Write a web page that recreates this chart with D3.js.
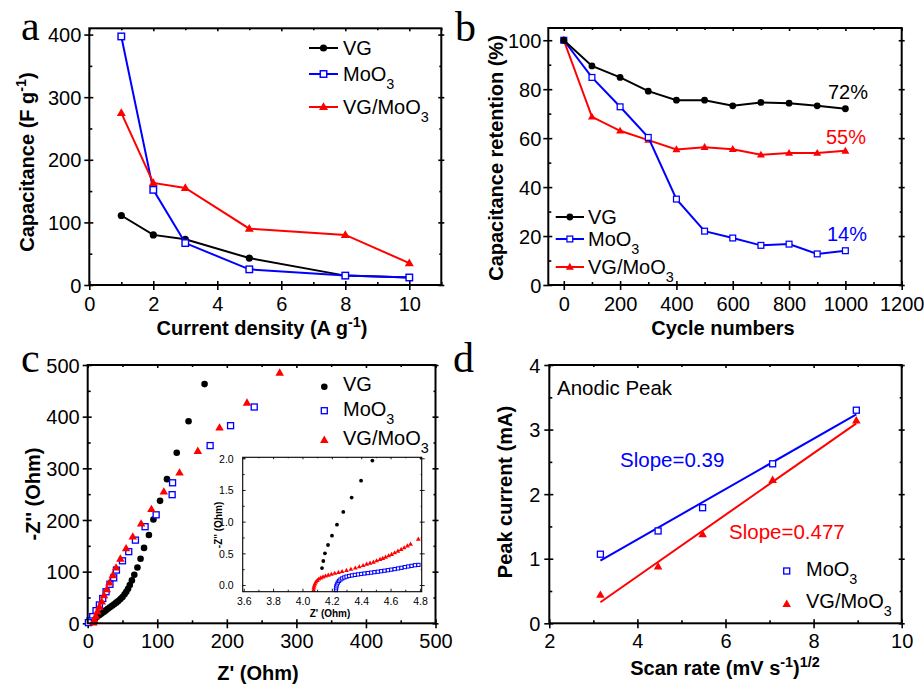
<!DOCTYPE html>
<html><head><meta charset="utf-8">
<script src="https://cdn.jsdelivr.net/npm/d3@7"></script>
<style>
body{margin:0;background:#fff}
svg{display:block}
text{font-family:"Liberation Sans",Arial,Helvetica,sans-serif;fill:#000}
</style>
</head><body>
<svg id="chart" width="924" height="684"></svg>
<script>
// ---------------- DATA ----------------
// (a) rate capability
const densities = [1, 2, 3, 5, 8, 10];
const capVG = [111, 80, 73, 43, 15, 12];
const capMoO3 = [397, 152, 67, 25, 15, 12];
const capVGMoO3 = [275, 163, 155, 90, 80, 35];

// (b) cycling stability
const cycles = [0, 100, 200, 300, 400, 500, 600, 700, 800, 900, 1000];
const retVG = [100, 89.5, 84.8, 79.2, 75.5, 75.5, 73.2, 74.6, 74.3, 73.2, 72];
const retMoO3 = [100, 84.8, 72.8, 60.3, 35.1, 22, 19.2, 16.2, 16.7, 12.7, 14];
const retVGMoO3 = [100, 68.7, 63, 59.2, 55.4, 56.3, 55.5, 53.2, 53.9, 53.9, 54.8];
const retLabels = ["72%", "55%", "14%"];

// (c) Nyquist plots [Z', -Z'']
const eisVG = [[168,463],[145,391],[128,330],[114,279],[104,237],[94.5,201],[88,171],[81,146],[76,125],[71.5,108],[67,94],[63.5,83],[60.5,74],[58,67],[55.5,61],[53,56],[50,51],[47,47],[44,43],[41,40],[38,37],[35,34],[32,31],[29,28],[26,25],[23,22],[20,19],[17,16],[14,13],[11,10],[8.5,7],[6.5,4.5],[5,2.5],[4,1]];
const eisMoO3 = [[239.4,418.7],[205.4,382.6],[176,344],[122,272],[121.4,249],[98.4,210],[82.5,187],[68.6,161],[59,138.7],[50,121],[41.3,103],[37.4,88],[32,75.5],[26.4,61],[21.6,48],[16.8,35.5],[12,24.5],[7.2,13],[3.4,4.5],[1,1.3]];
const eisVGMoO3 = [[276,485],[229,427],[189.5,378.7],[158.3,333.5],[132,291.6],[109.4,254.8],[91.6,221],[76.8,193],[64.8,167.7],[55.2,145],[47,125],[40.8,107.7],[36,93],[31.2,78.7],[27.4,65.8],[23.5,54.2],[20.2,42],[16.8,32],[13.9,22.6],[11.5,14],[9.6,6.5],[8.2,1.3]];
// (c) inset, high-frequency region
const insetVG = [[4.476,1.963],[4.399,1.647],[4.335,1.379],[4.278,1.153],[4.235,0.953],[4.201,0.779],[4.174,0.632],[4.153,0.5],[4.142,0.379],[4.133,0.268]];
const insetVGMoO3 = [[4.076,-0.079],[4.077,-0.045],[4.080,-0.012],[4.085,0.02],[4.092,0.05],[4.101,0.075],[4.112,0.097],[4.125,0.115],[4.140,0.13],[4.157,0.144],[4.176,0.158],[4.197,0.172],[4.22,0.187],[4.245,0.2],[4.27,0.215],[4.3,0.232],[4.33,0.25],[4.36,0.27],[4.387,0.29],[4.413,0.31],[4.437,0.332],[4.46,0.348],[4.483,0.363],[4.505,0.384],[4.528,0.405],[4.547,0.423],[4.566,0.442],[4.587,0.463],[4.607,0.484],[4.628,0.51],[4.65,0.537],[4.672,0.563],[4.693,0.589],[4.715,0.618],[4.736,0.647],[4.789,0.726]];
const insetMoO3 = [[4.228,-0.079],[4.229,-0.05],[4.231,-0.02],[4.235,0.01],[4.241,0.04],[4.249,0.065],[4.259,0.087],[4.271,0.105],[4.285,0.12],[4.30,0.133],[4.318,0.143],[4.337,0.152],[4.357,0.16],[4.378,0.168],[4.40,0.175],[4.422,0.182],[4.445,0.189],[4.468,0.196],[4.49,0.203],[4.513,0.21],[4.536,0.218],[4.559,0.226],[4.582,0.234],[4.605,0.243],[4.628,0.252],[4.651,0.262],[4.674,0.272],[4.697,0.283],[4.72,0.293],[4.743,0.303],[4.766,0.313],[4.79,0.318]];

// (d) peak current vs sqrt(scan rate)
const sqrtRates = [3.16, 4.47, 5.48, 7.07, 8.97];
const peakMoO3 = [1.07, 1.43, 1.79, 2.47, 3.30];
const peakVGMoO3 = [0.44, 0.88, 1.38, 2.22, 3.14];
const fitSlopes = [0.39, 0.477];
const fitIntercepts = [-0.262, -1.182];
const fitRange = [3.16, 8.97];
const slopeLabels = ["Slope=0.39", "Slope=0.477"];

const BLACK = "#000000", BLUE = "#0000ff", RED = "#ff0000";

// ---------------- HELPERS ----------------
const svg = d3.select("#chart");

function rich(g, parts, fs, attrs) {
  const t = g.append("text").attr("font-size", fs);
  for (const k in attrs) t.attr(k, attrs[k]);
  let shift = 0;
  parts.forEach(p => {
    const s = typeof p === "string" ? {t: p} : p;
    const target = s.sup ? -0.42 * fs : s.sub ? 0.4 * fs : 0;
    const ts = t.append("tspan").text(s.t);
    if (target !== shift) { ts.attr("dy", target - shift); shift = target; }
    if (s.sup || s.sub) ts.attr("font-size", fs * 0.72);
  });
  return t;
}

function range(a, b, step) {
  const out = [];
  for (let v = a; v <= b + step * 1e-6; v += step) out.push(+v.toFixed(6));
  return out;
}

function panel(cfg) {
  const x = d3.scaleLinear().domain(cfg.xd).range([cfg.L, cfg.R]);
  const y = d3.scaleLinear().domain(cfg.yd).range([cfg.B, cfg.T]);
  const g = svg.append("g");
  const fs = cfg.fs || 20;
  const sw = cfg.sw || 2;
  const outT = cfg.outTick === undefined ? 5 : cfg.outTick;
  const inT = cfg.inTick === undefined ? 4 : cfg.inTick;
  const minT = cfg.minTick === undefined ? 3 : cfg.minTick;
  if (cfg.fill) g.append("rect").attr("x", cfg.L).attr("y", cfg.T)
      .attr("width", cfg.R - cfg.L).attr("height", cfg.B - cfg.T).attr("fill", "#fff");

  const styleAxis = (sel) => {
    sel.select(".domain").remove();
    sel.selectAll("line").attr("stroke", "#000").attr("stroke-width", sw * 0.8);
  };
  // bottom: labelled outward major ticks
  const bx = g.append("g").attr("transform", `translate(0,${cfg.B})`)
    .call(d3.axisBottom(x).tickValues(cfg.xMajor).tickSize(outT).tickFormat(cfg.fx));
  styleAxis(bx);
  bx.selectAll("text").attr("font-size", fs).attr("y", cfg.xLabOff).attr("dy", null)
    .attr("fill", cfg.labColor || "#000").attr("font-family", null);
  // bottom inward majors + minors
  styleAxis(g.append("g").attr("transform", `translate(0,${cfg.B})`)
    .call(d3.axisBottom(x).tickValues(cfg.xMajor).tickSize(-inT).tickFormat("")));
  styleAxis(g.append("g").attr("transform", `translate(0,${cfg.B})`)
    .call(d3.axisBottom(x).tickValues(cfg.xMinor).tickSize(-minT).tickFormat("")));
  // left
  const ly = g.append("g").attr("transform", `translate(${cfg.L},0)`)
    .call(d3.axisLeft(y).tickValues(cfg.yMajor).tickSize(outT).tickFormat(cfg.fy));
  styleAxis(ly);
  ly.selectAll("text").attr("font-size", fs).attr("x", -cfg.yLabOff).attr("dy", "0.36em")
    .attr("fill", cfg.labColor || "#000").attr("font-family", null);
  styleAxis(g.append("g").attr("transform", `translate(${cfg.L},0)`)
    .call(d3.axisLeft(y).tickValues(cfg.yMajor).tickSize(-inT).tickFormat("")));
  styleAxis(g.append("g").attr("transform", `translate(${cfg.L},0)`)
    .call(d3.axisLeft(y).tickValues(cfg.yMinor).tickSize(-minT).tickFormat("")));
  // mirror top/right
  if (cfg.mirror !== false) {
    styleAxis(g.append("g").attr("transform", `translate(0,${cfg.T})`)
      .call(d3.axisTop(x).tickValues(cfg.xMajor).tickSize(-inT + 1).tickFormat("")));
    styleAxis(g.append("g").attr("transform", `translate(0,${cfg.T})`)
      .call(d3.axisTop(x).tickValues(cfg.xMinor).tickSize(-minT + 1).tickFormat("")));
    styleAxis(g.append("g").attr("transform", `translate(${cfg.R},0)`)
      .call(d3.axisRight(y).tickValues(cfg.yMajor).tickSize(3).tickFormat("")));
    styleAxis(g.append("g").attr("transform", `translate(${cfg.R},0)`)
      .call(d3.axisRight(y).tickValues(cfg.yMajor).tickSize(-inT + 1).tickFormat("")));
    styleAxis(g.append("g").attr("transform", `translate(${cfg.R},0)`)
      .call(d3.axisRight(y).tickValues(cfg.yMinor).tickSize(-minT + 1).tickFormat("")));
  }
  const plot = g.append("g");
  g.append("rect").attr("x", cfg.L).attr("y", cfg.T)
    .attr("width", cfg.R - cfg.L).attr("height", cfg.B - cfg.T)
    .attr("fill", "none").attr("stroke", "#000").attr("stroke-width", sw);
  return {g, plot, x, y};
}

function triPath(a) {
  const h = a * Math.sqrt(3) / 2;
  return `M0,${-h * 0.6}L${a / 2},${h * 0.4}L${-a / 2},${h * 0.4}Z`;
}

function markers(g, pts, type, color, size) {
  const sel = g.append("g");
  pts.forEach(([px, py]) => {
    if (type === "circle") {
      sel.append("circle").attr("cx", px).attr("cy", py).attr("r", size).attr("fill", color);
    } else if (type === "square") {
      sel.append("rect").attr("x", px - size / 2).attr("y", py - size / 2)
        .attr("width", size).attr("height", size).attr("fill", "#fff")
        .attr("stroke", color).attr("stroke-width", Math.max(1, size * 0.22));
    } else {
      sel.append("path").attr("d", triPath(size)).attr("transform", `translate(${px},${py})`)
        .attr("fill", color);
    }
  });
}

function series(p, xs, ys, type, color, size, withLine) {
  const pts = xs.map((v, i) => [p.x(v), p.y(ys[i])]);
  if (withLine) {
    p.plot.append("path").attr("d", d3.line()(pts)).attr("fill", "none")
      .attr("stroke", color).attr("stroke-width", 2);
  }
  markers(p.plot, pts, type, color, size);
}

function pairSeries(p, data, type, color, size) {
  markers(p.plot, data.map(d => [p.x(d[0]), p.y(d[1])]), type, color, size);
}

function legendRow(g, x1, x2, yy, type, color, size, tx, parts, line) {
  if (line) g.append("line").attr("x1", x1).attr("x2", x2).attr("y1", yy).attr("y2", yy)
      .attr("stroke", color).attr("stroke-width", 2);
  markers(g, [[(x1 + x2) / 2, yy]], type, color, size);
  rich(g, parts, 20, {x: tx, y: yy + 7});
}

function panelLetter(ch, x, y) {
  svg.append("text").attr("x", x).attr("y", y).attr("font-size", 42)
    .style("font-family", "'Liberation Serif','Times New Roman',serif").text(ch);
}

const subMo = ["MoO", {t: "3", sub: true}];
const subVGMo = ["VG/MoO", {t: "3", sub: true}];

// ---------------- PANEL A ----------------
const pa = panel({L: 89.3, R: 441.3, T: 28.3, B: 285, xd: [0, 11], yd: [0, 410],
  xMajor: range(0, 10, 2), xMinor: [1, 3, 5, 7, 9, 11], yMajor: range(0, 400, 100), yMinor: range(50, 350, 100),
  fx: d3.format("d"), fy: d3.format("d"), xLabOff: 26, yLabOff: 8});
series(pa, densities, capVG, "circle", BLACK, 3.6, true);
series(pa, densities, capMoO3, "square", BLUE, 6.5, true);
series(pa, densities, capVGMoO3, "tri", RED, 9, true);
legendRow(pa.g, 309, 338, 48, "circle", BLACK, 3.6, 343, ["VG"], true);
legendRow(pa.g, 309, 338, 74, "square", BLUE, 6.5, 343, subMo, true);
legendRow(pa.g, 309, 338, 107, "tri", RED, 9, 343, subVGMo, true);
rich(pa.g, ["Current density (A g", {t: "-1", sup: true}, ")"], 20,
  {x: 262, y: 335, "text-anchor": "middle", "font-weight": "bold"});
rich(pa.g, ["Capacitance (F g", {t: "-1", sup: true}, ")"], 20,
  {transform: "translate(34,162) rotate(-90)", "text-anchor": "middle", "font-weight": "bold"});
panelLetter("a", 21, 40);

// ---------------- PANEL B ----------------
const pb = panel({L: 548.3, R: 901.7, T: 28, B: 285, xd: [-55, 1200], yd: [0, 105],
  xMajor: range(0, 1200, 200), xMinor: range(100, 1100, 200), yMajor: range(0, 100, 20), yMinor: range(10, 90, 20),
  fx: d3.format("d"), fy: d3.format("d"), xLabOff: 26, yLabOff: 7});
series(pb, cycles, retVGMoO3, "tri", RED, 8, true);
series(pb, cycles, retMoO3, "square", BLUE, 5.8, true);
series(pb, cycles, retVG, "circle", BLACK, 3.4, true);
legendRow(pb.g, 555.7, 584, 217, "circle", BLACK, 3.4, 588, ["VG"], true);
legendRow(pb.g, 555.7, 584, 239, "square", BLUE, 5.8, 588, subMo, true);
legendRow(pb.g, 555.7, 584, 267, "tri", RED, 8, 588, subVGMo, true);
[[retLabels[0], BLACK, 99, 828], [retLabels[1], RED, 144, 826], [retLabels[2], BLUE, 240.5, 827]].forEach(([t, c, yy, xx]) => {
  pb.g.append("text").attr("x", xx).attr("y", yy).attr("font-size", 20).attr("fill", c).style("fill", c).text(t);
});
rich(pb.g, ["Cycle numbers"], 20, {x: 723, y: 335, "text-anchor": "middle", "font-weight": "bold"});
rich(pb.g, ["Capacitance retention (%)"], 20,
  {transform: "translate(503,158) rotate(-90)", "text-anchor": "middle", "font-weight": "bold"});
panelLetter("b", 455, 41);

// ---------------- PANEL C ----------------
const pc = panel({L: 87.7, R: 435.5, T: 365, B: 623.3, xd: [0, 500], yd: [0, 500],
  xMajor: range(0, 500, 100), xMinor: range(50, 450, 100), yMajor: range(0, 500, 100), yMinor: range(50, 450, 100),
  fx: d3.format("d"), fy: d3.format("d"), xLabOff: 25, yLabOff: 8});
pairSeries(pc, eisVG, "circle", BLACK, 3.3);
pairSeries(pc, eisMoO3, "square", BLUE, 6);
pairSeries(pc, eisVGMoO3, "tri", RED, 8.5);
markers(pc.g, [[324.3, 386.7]], "circle", BLACK, 3.3);
markers(pc.g, [[324.3, 410.7]], "square", BLUE, 6);
markers(pc.g, [[324.3, 440]], "tri", RED, 8.5);
rich(pc.g, ["VG"], 20, {x: 343, y: 391});
rich(pc.g, subMo, 20, {x: 343, y: 416});
rich(pc.g, subVGMo, 20, {x: 343, y: 445});
rich(pc.g, ["Z' (Ohm)"], 20, {x: 258, y: 680, "text-anchor": "middle", "font-weight": "bold"});
rich(pc.g, ["-Z'' (Ohm)"], 20,
  {transform: "translate(40,494) rotate(-90)", "text-anchor": "middle", "font-weight": "bold"});
panelLetter("c", 21, 372);

// inset
const pi = panel({L: 242.7, R: 421.7, T: 457.3, B: 591.7, xd: [3.593, 4.812], yd: [-0.105, 2.015],
  xMajor: range(3.6, 4.8, 0.2), xMinor: range(3.7, 4.7, 0.2), yMajor: range(0, 2, 0.5), yMinor: range(0.25, 1.75, 0.5),
  fx: d3.format(".1f"), fy: d3.format(".1f"), xLabOff: 13, yLabOff: 9, fs: 10.5, sw: 1.1,
  outTick: 0, inTick: 3, minTick: 2, fill: true, labColor: "#222"});
pairSeries(pi, insetMoO3, "square", BLUE, 3.2);
pairSeries(pi, insetVGMoO3, "tri", RED, 4.8);
pairSeries(pi, insetVG, "circle", BLACK, 1.9);
rich(pi.g, ["Z' (Ohm)"], 10, {x: 330, y: 616.5, "text-anchor": "middle", "font-weight": "bold", fill: "#222"});
rich(pi.g, ["-Z'' (Ohm)"], 10,
  {transform: "translate(222,525) rotate(-90)", "text-anchor": "middle", "font-weight": "bold", fill: "#222"});

// ---------------- PANEL D ----------------
const pd = panel({L: 549.3, R: 901.7, T: 365, B: 623.3, xd: [2, 10], yd: [0, 4],
  xMajor: range(2, 10, 2), xMinor: range(3, 9, 2), yMajor: range(0, 4, 1), yMinor: range(0.5, 3.5, 1),
  fx: d3.format("d"), fy: d3.format("d"), xLabOff: 25, yLabOff: 9});
[BLUE, RED].forEach((c, i) => {
  const pts = fitRange.map(v => [pd.x(v), pd.y(fitSlopes[i] * v + fitIntercepts[i])]);
  pd.plot.append("path").attr("d", d3.line()(pts)).attr("stroke", c).attr("stroke-width", 2).attr("fill", "none");
});
series(pd, sqrtRates, peakMoO3, "square", BLUE, 6, false);
series(pd, sqrtRates, peakVGMoO3, "tri", RED, 8.5, false);
markers(pd.g, [[786.7, 571]], "square", BLUE, 6);
markers(pd.g, [[786.7, 604]], "tri", RED, 8.5);
rich(pd.g, subMo, 20, {x: 806, y: 576});
rich(pd.g, subVGMo, 20, {x: 806, y: 608});
pd.g.append("text").attr("x", 557).attr("y", 395).attr("font-size", 20.5).text("Anodic Peak");
pd.g.append("text").attr("x", 620).attr("y", 467).attr("font-size", 20.5).style("fill", BLUE).text(slopeLabels[0]);
pd.g.append("text").attr("x", 729).attr("y", 539).attr("font-size", 20.5).style("fill", RED).text(slopeLabels[1]);
rich(pd.g, ["Scan rate (mV s", {t: "-1", sup: true}, ")", {t: "1/2", sup: true}], 20,
  {x: 725, y: 675, "text-anchor": "middle", "font-weight": "bold"});
rich(pd.g, ["Peak current (mA)"], 20,
  {transform: "translate(512,492) rotate(-90)", "text-anchor": "middle", "font-weight": "bold"});
panelLetter("d", 453, 372);
</script>
</body></html>
